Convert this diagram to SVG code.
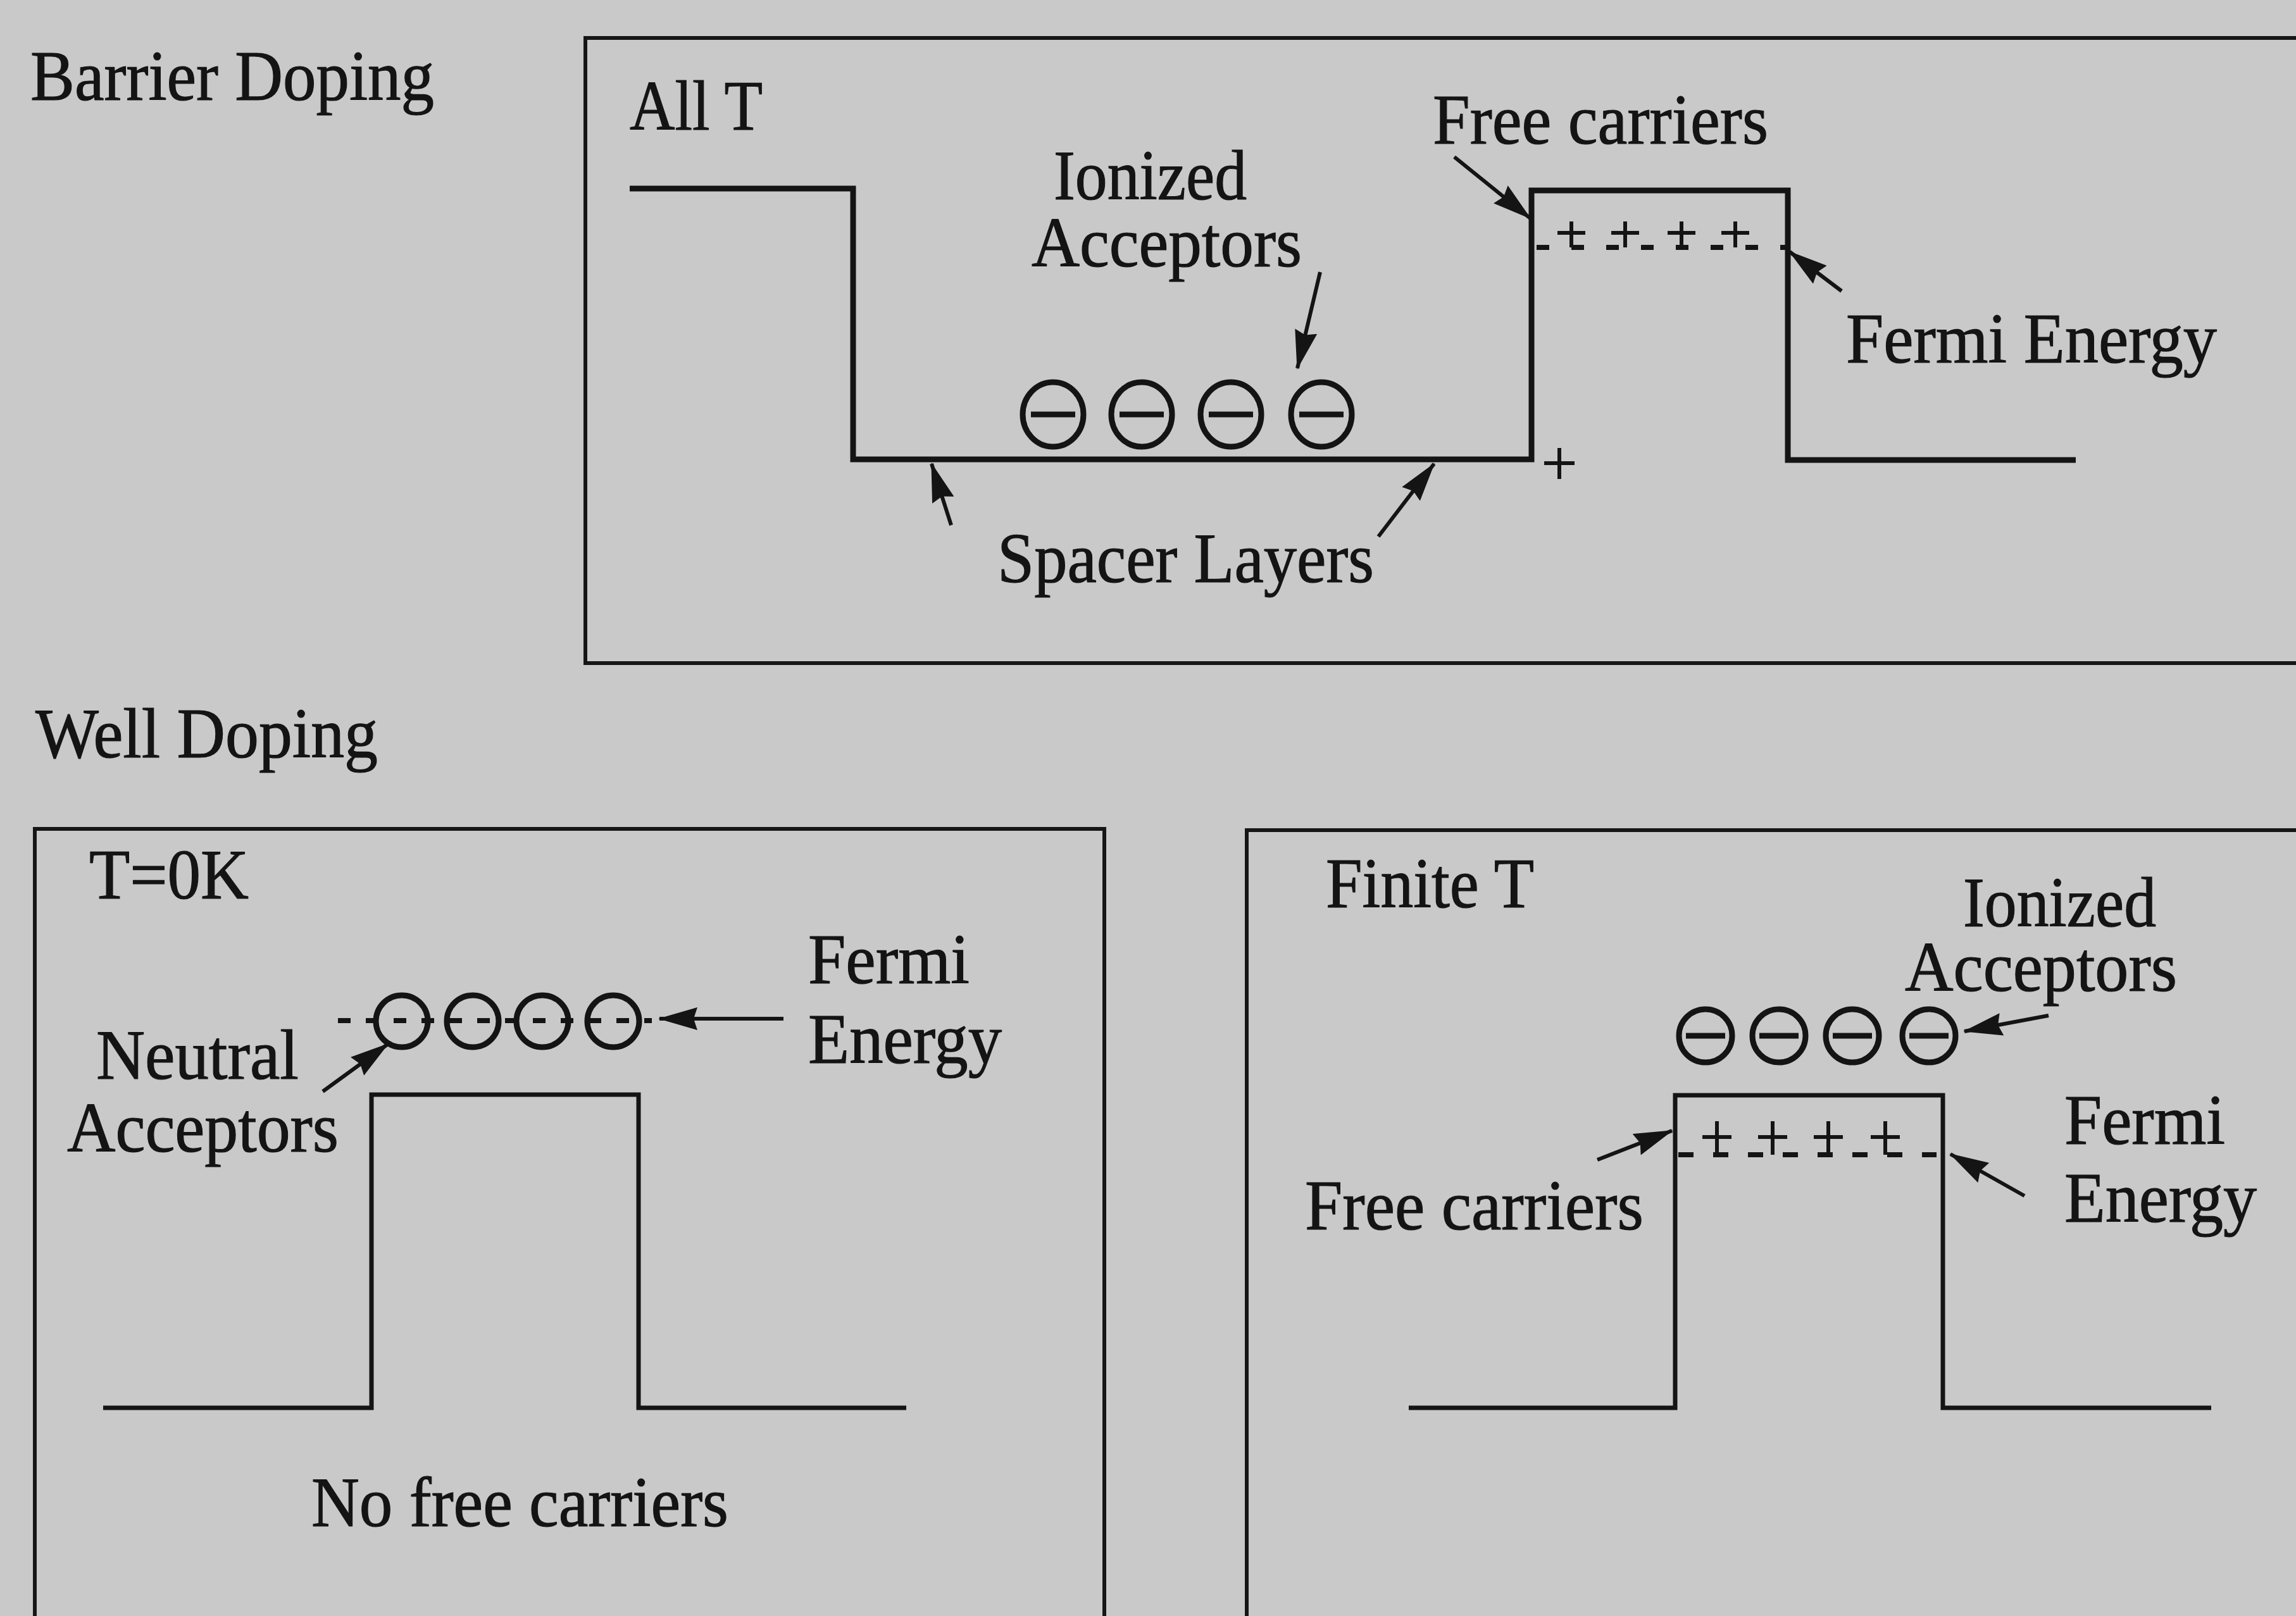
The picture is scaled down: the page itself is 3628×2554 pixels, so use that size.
<svg xmlns="http://www.w3.org/2000/svg" width="3628" height="2554" viewBox="0 0 3628 2554">
<style>
text{font-family:"Liberation Serif","Times New Roman",serif;font-size:112px;fill:#141414;stroke:#141414;stroke-width:1.2}
.box{fill:none;stroke:#161616;stroke-width:6}
.band{fill:none;stroke:#141414;stroke-width:9;stroke-linejoin:miter}
.band2{fill:none;stroke:#141414;stroke-width:7;stroke-linejoin:miter}
.arrow{fill:none;stroke:#141414;stroke-width:6;marker-end:url(#ah)}
.ion{fill:none;stroke:#141414;stroke-width:9}
.bar{stroke:#141414;stroke-width:9}
.plus{stroke:#141414;stroke-width:6;fill:none}
.fermi{stroke:#141414;stroke-width:8;fill:none}
</style>
<defs>
<marker id="ah" markerUnits="userSpaceOnUse" viewBox="0 0 62 36" refX="60" refY="18" markerWidth="62" markerHeight="36" orient="auto">
<path d="M0,0 L62,18 L0,36 L6,18 Z" fill="#141414"/>
</marker>
</defs>
<rect width="3628" height="2554" fill="#c9c9c9"/>

<g id="titles">
<text x="48" y="158" textLength="638" lengthAdjust="spacingAndGlyphs">Barrier Doping</text>
<text x="56" y="1197" textLength="541" lengthAdjust="spacingAndGlyphs">Well Doping</text>
</g>

<g id="barrier-panel">
<rect class="box" x="925" y="60" width="2720" height="988"/>
<text x="995" y="205" textLength="210" lengthAdjust="spacingAndGlyphs">All T</text>
<path class="band" d="M995,298 H1348 V726 H2420 V301 H2825 V727 H3280"/>
<g id="barrier-ions">
<ellipse class="ion" cx="1664" cy="655" rx="48" ry="51"/>
<line class="bar" x1="1629" y1="655" x2="1699" y2="655"/>
<ellipse class="ion" cx="1804" cy="655" rx="48" ry="51"/>
<line class="bar" x1="1769" y1="655" x2="1839" y2="655"/>
<ellipse class="ion" cx="1945" cy="655" rx="48" ry="51"/>
<line class="bar" x1="1910" y1="655" x2="1980" y2="655"/>
<ellipse class="ion" cx="2088" cy="655" rx="48" ry="51"/>
<line class="bar" x1="2053" y1="655" x2="2123" y2="655"/>
</g>
<g id="barrier-carriers">
<line class="fermi" x1="2428" y1="391" x2="2822" y2="391" stroke-dasharray="20 35"/>
<path class="plus" d="M2461,368 H2505 M2483,350 V391 M2546,368 H2590 M2568,350 V391 M2635,368 H2679 M2657,350 V391 M2720,368 H2764 M2742,350 V391"/>
</g>
<path class="plus" d="M2440,732 H2488 M2464,708 V757"/>
<text x="2264" y="227" textLength="530" lengthAdjust="spacingAndGlyphs">Free carriers</text>
<text x="1665" y="315" textLength="305" lengthAdjust="spacingAndGlyphs">Ionized</text>
<text x="1630" y="421" textLength="427" lengthAdjust="spacingAndGlyphs">Acceptors</text>
<text x="2917" y="573" textLength="586" lengthAdjust="spacingAndGlyphs">Fermi Energy</text>
<text x="1576" y="920" textLength="595" lengthAdjust="spacingAndGlyphs">Spacer Layers</text>
</g>

<g id="well-0K-panel">
<rect class="box" x="55" y="1310" width="1690" height="1300"/>
<text x="141" y="1420" textLength="252" lengthAdjust="spacingAndGlyphs">T=0K</text>
<path class="band2" d="M163,2225 H587 V1730 H1009 V2225 H1432"/>
<line class="fermi" x1="534" y1="1613" x2="1030" y2="1613" stroke-dasharray="20 24" stroke-width="7"/>
<g id="neutral-acceptors">
<circle class="ion" cx="635" cy="1614" r="41" stroke-width="8"/>
<circle class="ion" cx="747" cy="1614" r="41" stroke-width="8"/>
<circle class="ion" cx="857" cy="1614" r="41" stroke-width="8"/>
<circle class="ion" cx="969" cy="1614" r="41" stroke-width="8"/>
</g>
<text x="1277" y="1554" textLength="255" lengthAdjust="spacingAndGlyphs">Fermi</text>
<text x="1277" y="1680" textLength="306" lengthAdjust="spacingAndGlyphs">Energy</text>
<text x="152" y="1705" textLength="320" lengthAdjust="spacingAndGlyphs">Neutral</text>
<text x="106" y="1820" textLength="429" lengthAdjust="spacingAndGlyphs">Acceptors</text>
<text x="492" y="2412" textLength="659" lengthAdjust="spacingAndGlyphs">No free carriers</text>
</g>

<g id="well-finiteT-panel">
<rect class="box" x="1970" y="1312" width="1680" height="1300"/>
<text x="2095" y="1434" textLength="329" lengthAdjust="spacingAndGlyphs">Finite T</text>
<path class="band2" d="M2226,2225 H2647 V1731 H3070 V2225 H3494"/>
<g id="well-ions">
<circle class="ion" cx="2695" cy="1637" r="42"/>
<line class="bar" x1="2664" y1="1637" x2="2726" y2="1637"/>
<circle class="ion" cx="2811" cy="1637" r="42"/>
<line class="bar" x1="2780" y1="1637" x2="2842" y2="1637"/>
<circle class="ion" cx="2927" cy="1637" r="42"/>
<line class="bar" x1="2896" y1="1637" x2="2958" y2="1637"/>
<circle class="ion" cx="3048" cy="1637" r="42"/>
<line class="bar" x1="3017" y1="1637" x2="3079" y2="1637"/>
</g>
<g id="well-carriers">
<line class="fermi" x1="2652" y1="1825" x2="3060" y2="1825" stroke-dasharray="24 31"/>
<path class="plus" d="M2690,1797 H2736 M2713,1772 V1825 M2778,1797 H2824 M2801,1772 V1825 M2866,1797 H2912 M2889,1772 V1825 M2956,1797 H3002 M2979,1772 V1825"/>
</g>
<text x="3102" y="1464" textLength="305" lengthAdjust="spacingAndGlyphs">Ionized</text>
<text x="3010" y="1566" textLength="430" lengthAdjust="spacingAndGlyphs">Acceptors</text>
<text x="2062" y="1943" textLength="535" lengthAdjust="spacingAndGlyphs">Free carriers</text>
<text x="3262" y="1808" textLength="254" lengthAdjust="spacingAndGlyphs">Fermi</text>
<text x="3262" y="1931" textLength="304" lengthAdjust="spacingAndGlyphs">Energy</text>
</g>

<g id="connectors">
<line class="arrow" x1="2298" y1="248" x2="2418" y2="345"/>
<line class="arrow" x1="2910" y1="460" x2="2828" y2="398"/>
<line class="arrow" x1="2086" y1="430" x2="2050" y2="582"/>
<line class="arrow" x1="1503" y1="830" x2="1472" y2="733"/>
<line class="arrow" x1="2178" y1="848" x2="2266" y2="733"/>
<line class="arrow" x1="1238" y1="1610" x2="1042" y2="1610"/>
<line class="arrow" x1="510" y1="1725" x2="613" y2="1650"/>
<line class="arrow" x1="3237" y1="1605" x2="3104" y2="1630"/>
<line class="arrow" x1="2524" y1="1833" x2="2642" y2="1787"/>
<line class="arrow" x1="3199" y1="1890" x2="3082" y2="1824"/>
</g>
</svg>
